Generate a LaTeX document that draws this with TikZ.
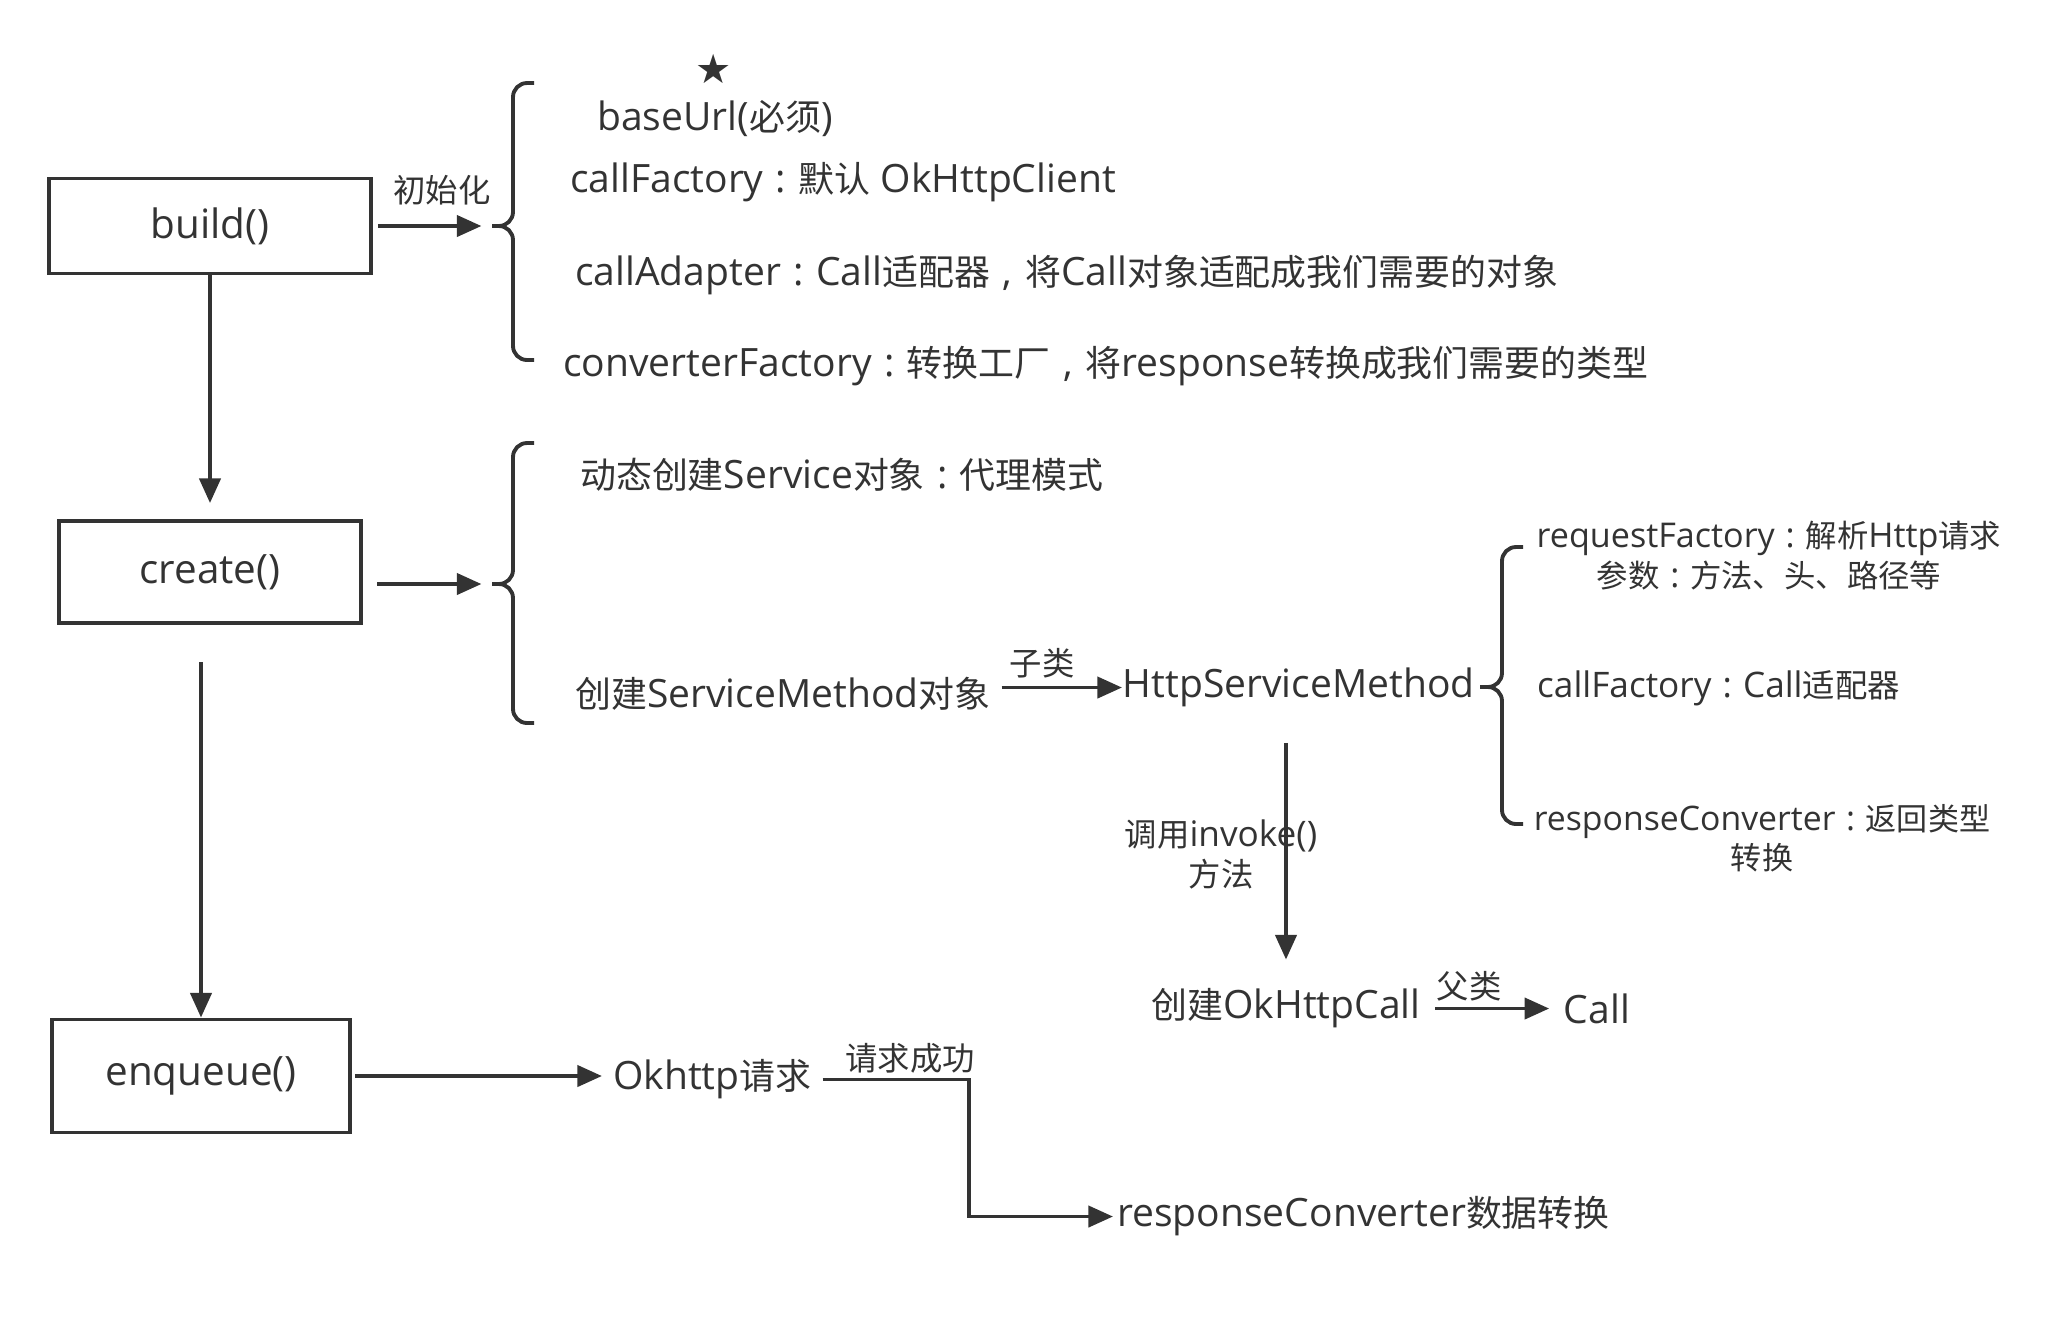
\documentclass[tikz,border=0pt]{standalone}
\usepackage{fontspec}
\setmainfont{Open Sans}
\newfontfamily\cjk[Scale=0.92]{Noto Sans CJK SC}
\newfontfamily\sym{DejaVu Sans}
\newcommand\zh[1]{{\cjk #1}}
\newcommand\col{\hbox to 0.9em{\hss:\hss}}
\newcommand\com{\hbox to 0.9em{\hss,\hss}}
\usetikzlibrary{arrows.meta}
\definecolor{ink}{HTML}{333333}

\begin{document}
\begin{tikzpicture}[
  x=0.01cm, y=-0.01cm,
  font=\fontsize{11.1}{12.5}\selectfont, color=ink,
  box/.style={draw=ink, line width=1.1pt, inner sep=0pt, font=\fontsize{11.5}{13}\selectfont},
  txt/.style={inner sep=1pt, anchor=west, yshift=-1pt},
  lbl/.style={inner sep=1pt, align=center, yshift=-1pt, font=\fontsize{10}{11.5}\selectfont},
  arr/.style={-{Triangle[length=7pt,width=6pt]}, line width=1.1pt, draw=ink},
  curly/.style={line width=1.1pt, draw=ink, rounded corners=4pt}
]
\useasboundingbox (0,0) rectangle (2068,1326);

% main calls
\node[box, minimum width=3.21cm, minimum height=0.95cm] (build) at (210,226) {build()};
\node[box, minimum width=3.02cm, minimum height=1.02cm] (create) at (210,572) {create()};
\node[box, minimum width=2.97cm, minimum height=1.13cm] (enqueue) at (201,1076) {enqueue()};

% builder fields
\coordinate (b1) at (492,226);
\draw[curly] (534,83) -- (513,83) -- (513,226) -- (b1);
\draw[curly] (534,360) -- (513,360) -- (513,226) -- (b1);
\node[inner sep=0pt, font=\sym\fontsize{11.5}{12}\selectfont] (star) at (714,69) {★};
\node[inner sep=1pt, yshift=-1pt] (baseurl) at (715,115) {baseUrl(\zh{必须})};
\node[txt] (callfac) at (566,179) {callFactory\col\zh{默认} OkHttpClient};
\node[txt] (adapter) at (571,272) {callAdapter\col Call\zh{适配器}\com\zh{将}Call\zh{对象适配成我们需要的对象}};
\node[txt] (convfac) at (559,363) {converterFactory\col\zh{转换工厂}\com\zh{将}response\zh{转换成我们需要的类型}};
\node[lbl] (init) at (442,187) {\zh{初始化}};
\draw[arr, shorten <=1.5pt, shorten >=3pt] (build.east |- b1) -- (b1);

% create
\coordinate (b2) at (492,584);
\draw[curly] (534,443) -- (513,443) -- (513,584) -- (b2);
\draw[curly] (534,723) -- (513,723) -- (513,584) -- (b2);
\draw[arr, shorten <=4pt, shorten >=3pt] (create.east |- b2) -- (b2);
\node[txt] (proxy) at (576,471) {\zh{动态创建}Service\zh{对象}\col\zh{代理模式}};
\node[txt] (sm) at (571,690) {\zh{创建}ServiceMethod\zh{对象}};
\node[txt, inner sep=0pt] (hsm) at (1122,684) {HttpServiceMethod};
\node[lbl] (sub) at (1042,660) {\zh{子类}};
\draw[arr, shorten <=2pt] (sm.east |- hsm.west) -- (hsm.west);

% HttpServiceMethod fields
\coordinate (b3) at (1480,687);
\draw[curly] (1523,547) -- (1502,547) -- (1502,687) -- (b3);
\draw[curly] (1523,824) -- (1502,824) -- (1502,687) -- (b3);
\node[lbl, font=\fontsize{9.7}{11.2}\selectfont] (reqfac) at (1769,552) {requestFactory\col\zh{解析}Http\zh{请求}\\\zh{参数}\col\zh{方法、头、路径等}};
\node[txt, font=\fontsize{10}{11.5}\selectfont] (callfac2) at (1533,685) {callFactory\col Call\zh{适配器}};
\node[lbl, font=\fontsize{9.6}{11.2}\selectfont] (respconv) at (1762,835) {responseConverter\col\zh{返回类型}\\\zh{转换}};

% invoke
\node[txt, anchor=center] (okcall) at (1286,1005) {\zh{创建}OkHttpCall};
\node[txt, anchor=center] (call) at (1597,1005) {Call};
\node[lbl] (invoke) at (1221,851) {\zh{调用}invoke()\\\zh{方法}};
\node[lbl] (parent) at (1469,983) {\zh{父类}};
\draw[arr, shorten <=0.35cm, shorten >=0.25cm] (okcall.north |- hsm.south) -- (okcall.north);
\draw[arr, shorten <=3pt, shorten >=3pt] (okcall.east) -- (call.west);

% flow
\draw[arr, shorten >=0.16cm] (build.south) -- (create.north);
\draw[arr, shorten <=0.37cm] (enqueue.north |- create.south) -- (enqueue.north);

% enqueue
\node[txt] (okreq) at (609,1076) {Okhttp\zh{请求}};
\node[txt] (conv) at (1113,1213) {responseConverter\zh{数据转换}};
\node[lbl] (success) at (910,1055) {\zh{请求成功}};
\coordinate (bend) at (969,1150);
\draw[arr, shorten <=1pt, shorten >=2pt] (enqueue.east) -- (enqueue.east -| okreq.west);
\draw[arr, shorten <=2pt] (okreq.east) -| (bend) |- (conv.west);
\end{tikzpicture}
\end{document}
